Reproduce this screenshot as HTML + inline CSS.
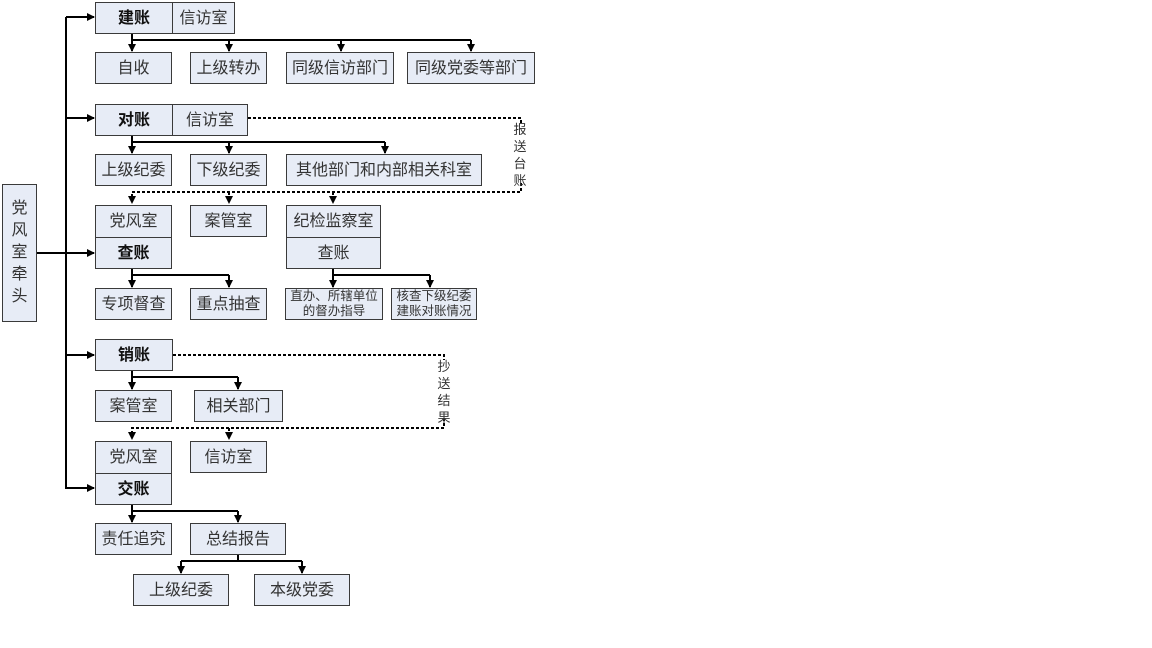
<!DOCTYPE html>
<html><head><meta charset="utf-8"><style>
html,body{margin:0;padding:0;background:#fff;}
body{width:1152px;height:648px;position:relative;overflow:hidden;font-family:"Liberation Sans","Noto Sans CJK SC",sans-serif;}
.b{position:absolute;box-sizing:border-box;background:#e7ecf6;border:1.5px solid #3a3a3a;color:#333;font-size:16px;display:flex;align-items:center;justify-content:center;text-align:center;line-height:17px;}
.bold{font-weight:bold;color:#111;}
.sm{font-size:12.5px;line-height:15px;}
.v{position:absolute;font-size:13px;color:#333;line-height:17px;width:14px;text-align:center;}
svg{position:absolute;left:0;top:0;}
</style></head><body>
<svg width="1152" height="648">
<defs><marker id="a" markerWidth="8" markerHeight="8" refX="7" refY="4" orient="auto" markerUnits="userSpaceOnUse"><path d="M0,0 L8,4 L0,8 z" fill="#000"/></marker></defs>
<g stroke="#000" stroke-width="2" fill="none">
<path d="M66,17 V489"/>
<path d="M37,253 H94" marker-end="url(#a)"/>
<path d="M66,17 H94" marker-end="url(#a)"/>
<path d="M66,118 H94" marker-end="url(#a)"/>
<path d="M66,355 H94" marker-end="url(#a)"/>
<path d="M66,488 H94" marker-end="url(#a)"/>
<path d="M132,34 V40 H471"/>
<path d="M132,40 V51" marker-end="url(#a)"/><path d="M229,40 V51" marker-end="url(#a)"/><path d="M341,40 V51" marker-end="url(#a)"/><path d="M471,40 V51" marker-end="url(#a)"/>
<path d="M132,135 V142 H385"/>
<path d="M132,142 V153" marker-end="url(#a)"/><path d="M229,142 V153" marker-end="url(#a)"/><path d="M385,142 V153" marker-end="url(#a)"/>
<path d="M132,269 V275 H229"/>
<path d="M132,275 V287" marker-end="url(#a)"/><path d="M229,275 V287" marker-end="url(#a)"/>
<path d="M333,269 V275 H430"/>
<path d="M333,275 V287" marker-end="url(#a)"/><path d="M430,275 V287" marker-end="url(#a)"/>
<path d="M132,371 V377 H238"/>
<path d="M132,377 V389" marker-end="url(#a)"/><path d="M238,377 V389" marker-end="url(#a)"/>
<path d="M132,504 V511 H238"/>
<path d="M132,511 V522" marker-end="url(#a)"/><path d="M238,511 V522" marker-end="url(#a)"/>
<path d="M238,555 V561"/>
<path d="M181,561 H302"/>
<path d="M181,561 V573" marker-end="url(#a)"/><path d="M302,561 V573" marker-end="url(#a)"/>
</g>
<g stroke="#000" stroke-width="2" fill="none" stroke-dasharray="3,2">
<path d="M248,118 H521 V124"/><path d="M521,183 V192 H132 V196"/>
<path d="M229,192 V196"/><path d="M333,192 V196"/>
<path d="M173,355 H444 V360"/><path d="M444,418 V428 H132 V432"/>
<path d="M229,428 V432"/>
</g>
<g fill="#000">
<path d="M128,196 L136,196 L132,204 z"/><path d="M225,196 L233,196 L229,204 z"/><path d="M329,196 L337,196 L333,204 z"/>
<path d="M128,432 L136,432 L132,440 z"/><path d="M225,432 L233,432 L229,440 z"/>
</g>
</svg>
<div class="b" style="left:2px;top:184px;width:35px;height:138px;flex-direction:column;line-height:22px;">党<br>风<br>室<br>牵<br>头</div>

<div class="b bold" style="left:95px;top:2px;width:78px;height:32px;">建账</div>
<div class="b" style="left:172px;top:2px;width:63px;height:32px;">信访室</div>
<div class="b" style="left:95px;top:52px;width:77px;height:32px;">自收</div>
<div class="b" style="left:190px;top:52px;width:77px;height:32px;">上级转办</div>
<div class="b" style="left:286px;top:52px;width:108px;height:32px;">同级信访部门</div>
<div class="b" style="left:407px;top:52px;width:128px;height:32px;">同级党委等部门</div>

<div class="b bold" style="left:95px;top:104px;width:78px;height:32px;">对账</div>
<div class="b" style="left:172px;top:104px;width:76px;height:32px;">信访室</div>
<div class="b" style="left:95px;top:154px;width:77px;height:32px;">上级纪委</div>
<div class="b" style="left:190px;top:154px;width:77px;height:32px;">下级纪委</div>
<div class="b" style="left:286px;top:154px;width:196px;height:32px;">其他部门和内部相关科室</div>
<div class="v" style="left:513px;top:121px;">报<br>送<br>台<br>账</div>

<div class="b" style="left:95px;top:205px;width:77px;height:33px;">党风室</div>
<div class="b bold" style="left:95px;top:237px;width:77px;height:32px;">查账</div>
<div class="b" style="left:190px;top:205px;width:77px;height:32px;">案管室</div>
<div class="b" style="left:286px;top:205px;width:95px;height:33px;">纪检监察室</div>
<div class="b" style="left:286px;top:237px;width:95px;height:32px;">查账</div>
<div class="b" style="left:95px;top:288px;width:77px;height:32px;">专项督查</div>
<div class="b" style="left:190px;top:288px;width:77px;height:32px;">重点抽查</div>
<div class="b sm" style="left:285px;top:288px;width:98px;height:32px;">直办、所辖单位<br>的督办指导</div>
<div class="b sm" style="left:391px;top:288px;width:86px;height:32px;">核查下级纪委<br>建账对账情况</div>

<div class="b bold" style="left:95px;top:339px;width:78px;height:32px;">销账</div>
<div class="v" style="left:437px;top:358px;">抄<br>送<br>结<br>果</div>
<div class="b" style="left:95px;top:390px;width:77px;height:32px;">案管室</div>
<div class="b" style="left:194px;top:390px;width:89px;height:32px;">相关部门</div>

<div class="b" style="left:95px;top:441px;width:77px;height:33px;">党风室</div>
<div class="b bold" style="left:95px;top:473px;width:77px;height:32px;">交账</div>
<div class="b" style="left:190px;top:441px;width:77px;height:32px;">信访室</div>
<div class="b" style="left:95px;top:523px;width:77px;height:32px;">责任追究</div>
<div class="b" style="left:190px;top:523px;width:96px;height:32px;">总结报告</div>
<div class="b" style="left:133px;top:574px;width:96px;height:32px;">上级纪委</div>
<div class="b" style="left:254px;top:574px;width:96px;height:32px;">本级党委</div>
</body></html>
